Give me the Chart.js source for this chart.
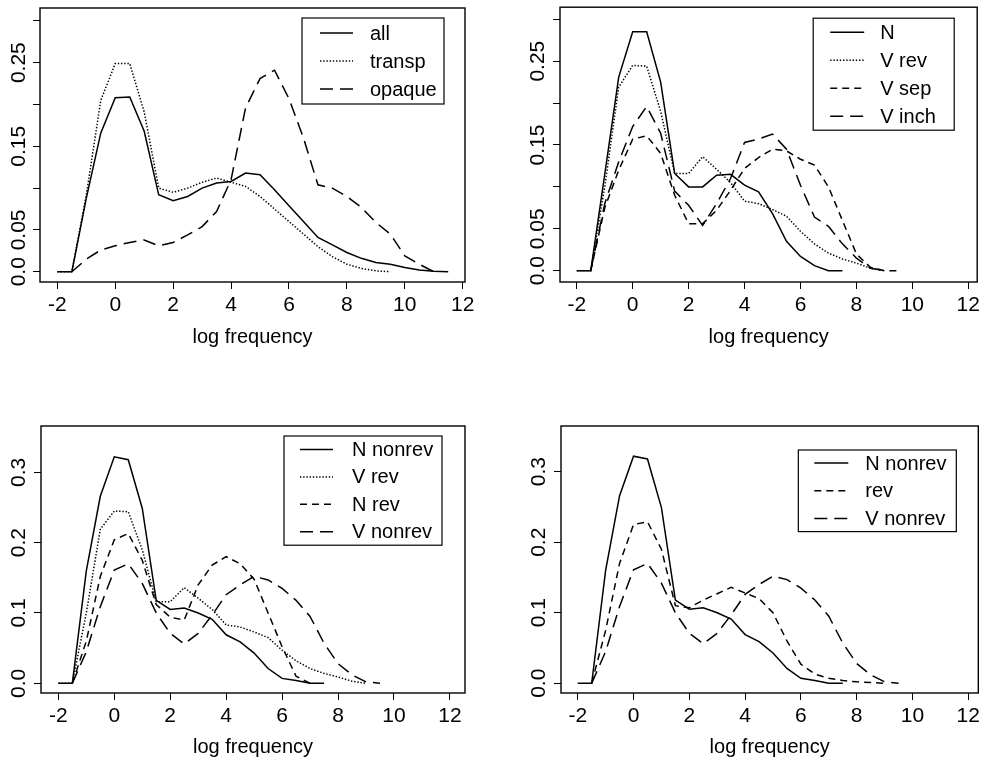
<!DOCTYPE html>
<html><head><meta charset="utf-8">
<script src="https://cdn.jsdelivr.net/npm/chart.js@4/dist/chart.umd.min.js"></script>
<style>
html,body{margin:0;padding:0;background:#fff;}
body{width:984px;height:757px;position:relative;overflow:hidden;}
.p{position:absolute;}
canvas{display:block;}
</style></head><body>
<div class="p" style="left:0;top:0"><canvas id="c1" width="492" height="370"></canvas></div>
<div class="p" style="left:492px;top:0"><canvas id="c2" width="492" height="370"></canvas></div>
<div class="p" style="left:0;top:370px"><canvas id="c3" width="492" height="387"></canvas></div>
<div class="p" style="left:492px;top:370px"><canvas id="c4" width="492" height="387"></canvas></div>
<script>
// ---- data (log frequency grid) ----
const xs = [-2,-1.5,-1,-0.5,0,0.5,1,1.5,2,2.5,3,3.5,4,4.5,5,5.5,6,6.5,7,7.5,8,8.5,9,9.5,10,10.5,11,11.5];

// panel 1
const allVals    = [0,0,0.088,0.166,0.208,0.209,0.168,0.092,0.085,0.090,0.100,0.106,0.108,0.118,0.116,0.098,0.079,0.060,0.041,0.032,0.023,0.016,0.011,0.009,0.005,0.002,0.0005,0];
const transpVals = [0,0,0.092,0.205,0.249,0.249,0.191,0.100,0.095,0.100,0.107,0.112,0.107,0.102,0.090,0.075,0.060,0.045,0.030,0.018,0.009,0.004,0.001,0];
const opaqueVals = [null,0,0.015,0.026,0.031,0.035,0.038,0.031,0.035,0.044,0.054,0.072,0.110,0.196,0.231,0.241,0.207,0.160,0.104,0.100,0.090,0.077,0.059,0.045,0.019,0.009,0];

// panel 2
const nVals      = [0,0,0.115,0.231,0.285,0.285,0.225,0.116,0.100,0.100,0.114,0.115,0.102,0.094,0.068,0.035,0.017,0.006,0,0];
const vRevVals   = [0,0,0.100,0.219,0.245,0.244,0.190,0.116,0.116,0.136,0.121,0.105,0.083,0.080,0.073,0.065,0.047,0.032,0.021,0.014,0.009,0.003,0];
const vSepVals   = [null,0,0.075,0.120,0.157,0.161,0.140,0.090,0.056,0.056,0.072,0.096,0.122,0.135,0.145,0.143,0.133,0.126,0.100,0.060,0.020,0.004,0,0];
const vInchVals  = [null,0,0.080,0.130,0.172,0.196,0.164,0.095,0.078,0.054,0.080,0.110,0.153,0.157,0.163,0.145,0.102,0.064,0.053,0.032,0.015,0.003,0];

// panels 3 and 4
const nNonrevVals = [0,0,0.160,0.266,0.322,0.318,0.249,0.118,0.105,0.107,0.100,0.091,0.069,0.059,0.043,0.021,0.007,0.004,0,0];
const nRevVals    = [null,0,0.060,0.152,0.204,0.213,0.175,0.112,0.094,0.090,0.140,0.168,0.180,0.170,0.148,0.100,0.052,0.010,0];
const vNonrevVals = [null,0,0.045,0.109,0.161,0.170,0.142,0.100,0.071,0.056,0.071,0.097,0.126,0.140,0.152,0.147,0.135,0.118,0.095,0.057,0.028,0.012,0.002,0];
const revVals     = [null,0,0.075,0.170,0.225,0.229,0.190,0.110,0.107,0.118,0.127,0.136,0.128,0.120,0.100,0.060,0.027,0.013,0.007,0.004,0.002,0.001,0];

// ticks
const xTicks = [-2,0,2,4,6,8,10,12];
const xTickLabels = ['-2','0','2','4','6','8','10','12'];
const yTicksTop = [0,0.05,0.1,0.15,0.2,0.25,0.3];
const yLabelsTop = ['0.0','0.05','','0.15','','0.25',''];
const yTicksBottom = [0,0.1,0.2,0.3];
const yLabelsBottom = ['0.0','0.1','0.2','0.3'];
const xTitle = 'log frequency';

// ---- styles ----
const FONT = '"Liberation Sans", Arial, Helvetica, sans-serif';
Chart.defaults.font.family = FONT;
Chart.defaults.color = '#000';
const SOLID = [], DOTTED = [1.4, 1.8], SHORT = [7, 5], LONG = [13, 7];

function pts(vals){ return vals.map((v,i)=> v===null ? null : {x: xs[i], y: v}).filter(p=>p); }

const boxLegend = {
  id: 'boxLegend',
  afterDraw(chart, args, o) {
    const {ctx, chartArea: a} = chart;
    ctx.save();
    ctx.strokeStyle = '#000';
    ctx.lineWidth = 1.4;
    ctx.setLineDash([]);
    ctx.strokeRect(a.left, a.top, a.right - a.left, a.bottom - a.top);
    const ds = chart.data.datasets;
    const bx = a.right - o.right - o.width, by = a.top + o.top;
    const bh = o.padT * 2 + o.rowH * (ds.length - 1);
    ctx.lineWidth = 1.2;
    ctx.strokeRect(bx, by, o.width, bh);
    ctx.font = '20px ' + FONT;
    ctx.fillStyle = '#000';
    ctx.textBaseline = 'middle';
    ctx.textAlign = 'left';
    ds.forEach((d, i) => {
      const y = by + o.padT + i * o.rowH;
      ctx.beginPath();
      ctx.lineWidth = d.borderWidth;
      ctx.lineCap = 'butt';
      ctx.setLineDash(d.borderDash || []);
      ctx.moveTo(bx + o.padL, y);
      ctx.lineTo(bx + o.padL + o.lineLen, y);
      ctx.stroke();
      ctx.setLineDash([]);
      ctx.fillText(d.label, bx + o.padL + o.lineLen + o.gap, y + 1);
    });
    ctx.restore();
  }
};

function panel(id, c) {
  new Chart(document.getElementById(id), {
    type: 'line',
    data: {
      datasets: c.series.map(s => ({
        label: s.label, data: pts(s.vals), borderColor: '#000', borderWidth: 1.5,
        borderDash: s.dash, borderCapStyle: 'butt', pointRadius: 0, tension: 0, fill: false
      }))
    },
    options: {
      responsive: false, animation: false, events: [],
      layout: {padding: {top: c.top, right: c.right, left: 0, bottom: 0}},
      plugins: {legend: {display: false}, tooltip: {enabled: false}, boxLegend: c.legend},
      scales: {
        x: {
          type: 'linear', min: c.xmin, max: c.xmax,
          afterBuildTicks: s => { s.ticks = xTicks.map(v => ({value: v})); },
          afterFit: s => { s.height = c.xh; },
          ticks: {autoSkip: false, maxRotation: 0, minRotation: 0, padding: 4,
                  font: {size: 21}, color: '#000', callback: (v, i) => xTickLabels[i]},
          grid: {drawOnChartArea: false, drawTicks: true, tickLength: 7, color: '#000', lineWidth: 1},
          border: {display: false},
          title: {display: true, text: xTitle, color: '#000',
                  font: {size: 20, lineHeight: 1}, padding: {top: 0, bottom: c.titlePad}}
        },
        y: {
          type: 'linear', min: c.ymin, max: c.ymax,
          afterBuildTicks: s => { s.ticks = c.yTicks.map(v => ({value: v})); },
          afterFit: s => { s.width = c.yw; },
          ticks: {autoSkip: false, minRotation: 90, maxRotation: 90, crossAlign: 'center',
                  padding: c.ypad, font: {size: 21}, color: '#000',
                  callback: (v, i) => c.yLabels[i]},
          grid: {drawOnChartArea: false, drawTicks: true, tickLength: 7, color: '#000', lineWidth: 1},
          border: {display: false}
        }
      }
    },
    plugins: [boxLegend]
  });
}

panel('c1', {
  series: [{label: 'all', vals: allVals, dash: SOLID},
           {label: 'transp', vals: transpVals, dash: DOTTED},
           {label: 'opaque', vals: opaqueVals, dash: LONG}],
  top: 8, right: 27, yw: 40, xh: 88, titlePad: 23, ypad: -6.4,
  xmin: -2.6, xmax: 12.08, ymin: -0.0123, ymax: 0.3154,
  yTicks: yTicksTop, yLabels: yLabelsTop,
  legend: {right: 21, top: 10, width: 142, padT: 15, rowH: 28, padL: 18, lineLen: 33, gap: 17}
});
panel('c2', {
  series: [{label: 'N', vals: nVals, dash: SOLID},
           {label: 'V rev', vals: vRevVals, dash: DOTTED},
           {label: 'V sep', vals: vSepVals, dash: SHORT},
           {label: 'V inch', vals: vInchVals, dash: LONG}],
  top: 7, right: 3, yw: 68, xh: 88, titlePad: 23, ypad: -5.4,
  xmin: -2.6, xmax: 12.32, ymin: -0.0135, ymax: 0.3144,
  yTicks: yTicksTop, yLabels: yLabelsTop,
  legend: {right: 23, top: 11, width: 141, padT: 14, rowH: 28, padL: 17, lineLen: 34, gap: 16}
});
panel('c3', {
  series: [{label: 'N nonrev', vals: nNonrevVals, dash: SOLID},
           {label: 'V rev', vals: vRevVals, dash: DOTTED},
           {label: 'N rev', vals: nRevVals, dash: SHORT},
           {label: 'V nonrev', vals: vNonrevVals, dash: LONG}],
  top: 56, right: 27, yw: 41, xh: 64, titlePad: 0, ypad: 0.4,
  xmin: -2.62, xmax: 12.54, ymin: -0.0138, ymax: 0.3659,
  yTicks: yTicksBottom, yLabels: yLabelsBottom,
  legend: {right: 23, top: 10, width: 158, padT: 13.5, rowH: 27.4, padL: 16, lineLen: 33, gap: 19}
});
panel('c4', {
  series: [{label: 'N nonrev', vals: nNonrevVals, dash: SOLID},
           {label: 'rev', vals: revVals, dash: SHORT},
           {label: 'V nonrev', vals: vNonrevVals, dash: LONG}],
  top: 56, right: 2, yw: 69, xh: 64, titlePad: 0, ypad: 0.4,
  xmin: -2.6, xmax: 12.36, ymin: -0.0138, ymax: 0.3648,
  yTicks: yTicksBottom, yLabels: yLabelsBottom,
  legend: {right: 22, top: 24, width: 158, padT: 13, rowH: 27.8, padL: 16, lineLen: 34, gap: 17}
});
</script>
</body></html>
